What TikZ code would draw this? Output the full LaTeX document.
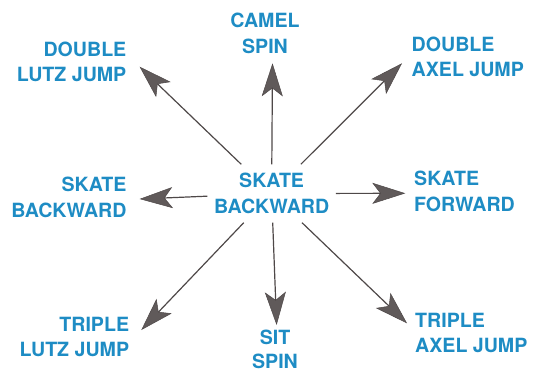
\documentclass[tikz,border=0pt]{standalone}
\usepackage{fontspec, xcolor}
\usetikzlibrary{arrows.meta}
\setmainfont{TeX Gyre Heros}
\definecolor{skateblue}{RGB}{30,140,196}
\definecolor{arrowgray}{RGB}{78,72,72}
\tikzset{
  label/.style={text=skateblue, inner sep=0pt, font=\bfseries\fontsize{19.6}{25.5}\selectfont},
  move/.style={draw=arrowgray, line width=1.2pt, -{Stealth[length=33pt, width=21pt, inset=8pt, line width=0.5pt, fill=arrowgray!90]}}
}

\begin{document}
\begin{tikzpicture}[x=1pt, y=-1pt]
\useasboundingbox (0, 0) rectangle (534, 374);
%Text
\draw (271.6, 193.5) node (hub) [label, align=center, minimum width=128pt, minimum height=58pt] {SKATE\\BACKWARD};
\draw (265, 33.3) node (camel) [label, align=center] {CAMEL\\SPIN};
\draw (126.5, 61.7) node (dlutz) [label, anchor=east, align=right] {DOUBLE\\LUTZ JUMP};
\draw (411.5, 57) node (daxel) [label, anchor=west, align=left] {DOUBLE\\AXEL JUMP};
\draw (126.7, 197.5) node (back) [label, anchor=east, align=right] {SKATE\\BACKWARD};
\draw (414, 191.2) node (fwd) [label, anchor=west, align=left] {SKATE\\FORWARD};
\draw (129.3, 337) node (tlutz) [label, anchor=east, align=right] {TRIPLE\\LUTZ JUMP};
\draw (275, 349) node (sit) [label, align=center, font=\bfseries\fontsize{19.6}{24}\selectfont] {SIT\\SPIN};
\draw (415, 333) node (taxel) [label, anchor=west, align=left] {TRIPLE\\AXEL JUMP};
%Arrow tips
\coordinate (camel-in) at (272.5, 63.3);
\coordinate (dlutz-in) at (139.6, 66.7);
\coordinate (daxel-in) at (402, 63.3);
\coordinate (back-in) at (139.6, 199);
\coordinate (fwd-in) at (405.3, 193.3);
\coordinate (tlutz-in) at (141.3, 330);
\coordinate (sit-in) at (276.6, 325);
\coordinate (taxel-in) at (407, 323.3);
\foreach \t in {camel, dlutz, daxel, back, fwd, tlutz, sit, taxel}
  \draw [move] (hub) -- (\t-in);
\end{tikzpicture}
\end{document}
